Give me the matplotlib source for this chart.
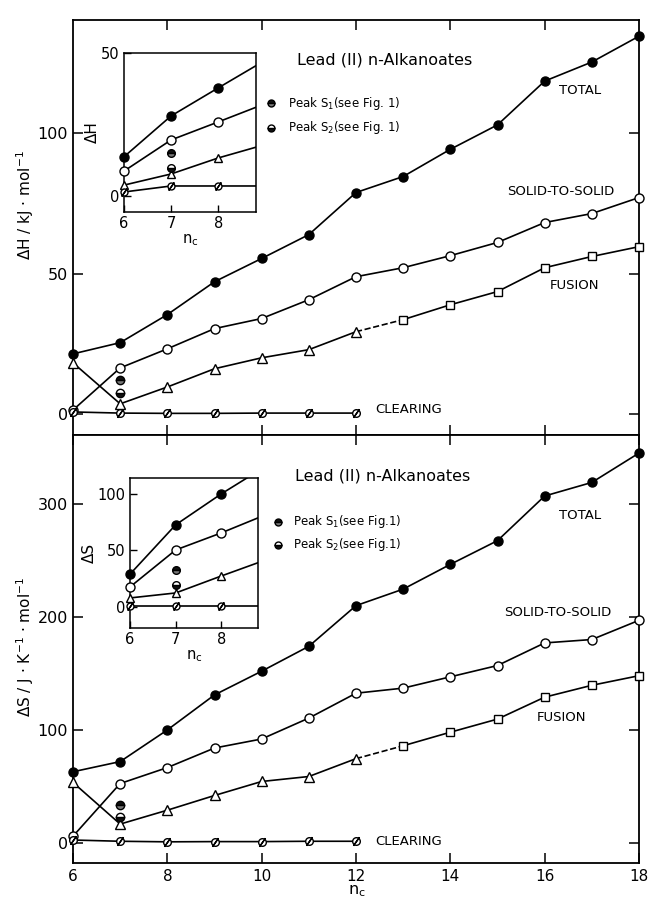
import matplotlib
matplotlib.use('Agg')
import matplotlib.pyplot as plt

# main plot data (n_c = 6..18)
n = [6, 7, 8, 9, 10, 11, 12, 13, 14, 15, 16, 17, 18]
n_clear = [6, 7, 8, 9, 10, 11, 12]

dH_total = [21.4, 25.4, 35.4, 47.1, 55.4, 63.9, 78.9, 84.6, 94.3, 103.0, 118.6, 125.4, 134.6]
dH_solid = [1.4, 16.4, 23.2, 30.4, 34.0, 40.7, 48.9, 52.1, 56.4, 61.1, 68.2, 71.4, 77.1]
dH_fusion = [18.2, 3.6, 9.6, 16.1, 20.0, 22.9, 29.3, 33.6, 38.9, 43.6, 52.1, 56.1, 59.6]
dH_clear = [0.7, 0.3, 0.2, 0.2, 0.3, 0.3, 0.3]
dH_peak_s1 = 12.1
dH_peak_s2 = 7.5

dS_total = [63, 72, 100, 131, 152, 174, 210, 224.6, 246.5, 267.5, 307, 319, 345]
dS_solid = [6, 52.6, 66.7, 84, 92, 110.5, 132.5, 137, 147, 157, 177, 180, 197]
dS_fusion = [53.5, 16.7, 29, 42, 54.4, 58.8, 74.6, 86, 98, 109.6, 129, 139.5, 148]
dS_clear = [2.6, 1.5, 1.0, 1.2, 1.2, 1.5, 1.5]
dS_peak_s1 = 34
dS_peak_s2 = 22.6

# inset data (n_c = 6, 7, 8; line carried on to 9, cut by the frame)
ins_n = [6, 7, 8]
ins_line_n = [6, 7, 8, 9]
iH_total = [13.7, 28.0, 37.8, 47.5]
iH_solid = [8.7, 19.6, 25.9, 32.3]
iH_fusion = [3.8, 7.7, 13.3, 18.0]
iH_clear = [1.4, 3.5, 3.5, 3.5]
iH_peaks = [15.0, 9.8]

iS_total = [29, 72.6, 100, 125]
iS_solid = [17.7, 50.4, 65.5, 82]
iS_fusion = [8, 12.4, 27.4, 42]
iS_clear = [1, 1, 1, 1]
iS_peaks = [32.7, 19.5]

plt.rcParams['font.family'] = ['DejaVu Sans']
K = 'black'
LW = 1.2


def slashed(ax, x, y, ms=5.5):
    ax.plot(x, y, 'o', ms=ms, mfc='white', mec=K, mew=1.0, clip_on=False, zorder=4)
    ax.plot(x, y, marker=(2, 2, -35), ls='none', ms=ms + 2, mec=K, mew=1.0,
            clip_on=False, zorder=5)


def peaks(ax, x, y1, y2, ms=6):
    ax.plot([x], [y1], 'o', ms=ms, mfc='#111111', mec=K, fillstyle='top',
            markerfacecoloralt='#777777', clip_on=False, zorder=4)
    ax.plot([x], [y2], 'o', ms=ms, mfc='#111111', mec=K, fillstyle='bottom',
            markerfacecoloralt='white', clip_on=False, zorder=4)


def main_panel(ax, total, solid, fusion, clear, p1, p2):
    ax.plot(n, total, '-', color=K, lw=LW, marker='o', ms=6.5, mfc=K, mec=K,
            clip_on=False, zorder=3)
    ax.plot(n, solid, '-', color=K, lw=LW, marker='o', ms=6.5, mfc='white', mec=K,
            clip_on=False, zorder=3)
    # fusion: triangles up to 12, dashed link, squares after
    ax.plot(n[:7], fusion[:7], '-', color=K, lw=LW, marker='^', ms=6.5, mfc='white',
            mec=K, clip_on=False, zorder=3)
    ax.plot(n[6:8], fusion[6:8], '--', color=K, lw=LW, zorder=2)
    ax.plot(n[7:], fusion[7:], '-', color=K, lw=LW, marker='s', ms=5.5, mfc='white',
            mec=K, clip_on=False, zorder=3)
    ax.plot(n_clear, clear, '-', color=K, lw=LW, zorder=2)
    slashed(ax, n_clear, clear)
    peaks(ax, 7, p1, p2)
    ax.set_xlim(6, 18)
    ax.tick_params(direction='in', length=7, width=1.1, labelsize=11.5,
                   top=True, right=True)
    for s in ax.spines.values():
        s.set_linewidth(1.3)


def inset(ax, total, solid, fusion, clear, pk, ylim, yticks, ylab, labx):
    for vals, mfc, mk, ms in [(total, K, 'o', 6.5), (solid, 'white', 'o', 6.5),
                              (fusion, 'white', '^', 6)]:
        ax.plot(ins_line_n, vals, '-', color=K, lw=LW, zorder=2)
        ax.plot(ins_n, vals[:3], ls='none', marker=mk, ms=ms, mfc=mfc, mec=K,
                clip_on=False, zorder=3)
    ax.plot(ins_line_n, clear, '-', color=K, lw=LW, zorder=2)
    slashed(ax, ins_n, clear[:3], ms=5)
    peaks(ax, 7, pk[0], pk[1], ms=5.5)
    ax.set_xlim(6, 8.8)
    ax.set_ylim(*ylim)
    ax.set_xticks([6, 7, 8])
    ax.set_yticks(yticks)
    ax.tick_params(direction='in', length=5, width=1.0, labelsize=10.5, pad=3)
    ax.set_ylabel(ylab, fontsize=11)
    ax.yaxis.set_label_coords(labx, 0.5)
    ax.set_xlabel('n$_\\mathrm{c}$', fontsize=10.5, labelpad=1)
    for s in ax.spines.values():
        s.set_linewidth(1.1)


fig = plt.figure(figsize=(6.49, 9.06), dpi=100)
ax1 = fig.add_axes([0.1125, 0.5199, 0.8721, 0.4581])
ax2 = fig.add_axes([0.1125, 0.0475, 0.8721, 0.4724])

main_panel(ax1, dH_total, dH_solid, dH_fusion, dH_clear, dH_peak_s1, dH_peak_s2)
ax1.set_ylim(-7.5, 140.4)
ax1.set_yticks([0, 50, 100])
ax1.set_xticks([8, 10, 12, 14, 16])
ax1.set_xticklabels([])

main_panel(ax2, dS_total, dS_solid, dS_fusion, dS_clear, dS_peak_s1, dS_peak_s2)
ax2.set_ylim(-17.7, 361)
ax2.set_yticks([0, 100, 200, 300])
ax2.set_xticks([6, 8, 10, 12, 14, 16, 18])
ax2.tick_params(axis='x', pad=4, labelsize=11)

# annotations, top panel
tk = dict(fontsize=9.5, va='center', ha='left')
ax1.text(10.75, 126, 'Lead (II) n-Alkanoates', fontsize=11.5, va='center')
ax1.plot([10.2], [110.7], 'o', ms=5, mfc='#111111', mec=K, fillstyle='top',
         markerfacecoloralt='#777777')
ax1.plot([10.2], [102], 'o', ms=5, mfc='#111111', mec=K, fillstyle='bottom',
         markerfacecoloralt='white')
ax1.text(10.55, 110.7, 'Peak S$_1$(see Fig. 1)', fontsize=8.5, va='center')
ax1.text(10.55, 102, 'Peak S$_2$(see Fig. 1)', fontsize=8.5, va='center')
ax1.text(16.3, 115.4, 'TOTAL', **tk)
ax1.text(15.2, 79.3, 'SOLID-TO-SOLID', **tk)
ax1.text(16.1, 45.7, 'FUSION', **tk)
ax1.text(12.4, 1.4, 'CLEARING', **tk)

# annotations, bottom panel
ax2.text(10.7, 324.6, 'Lead (II) n-Alkanoates', fontsize=11.5, va='center')
ax2.plot([10.35], [284], 'o', ms=5, mfc='#111111', mec=K, fillstyle='top',
         markerfacecoloralt='#777777')
ax2.plot([10.35], [264], 'o', ms=5, mfc='#111111', mec=K, fillstyle='bottom',
         markerfacecoloralt='white')
ax2.text(10.66, 284, 'Peak S$_1$(see Fig.1)', fontsize=8.5, va='center')
ax2.text(10.66, 264, 'Peak S$_2$(see Fig.1)', fontsize=8.5, va='center')
ax2.text(16.3, 290, 'TOTAL', **tk)
ax2.text(15.15, 204, 'SOLID-TO-SOLID', **tk)
ax2.text(15.83, 111, 'FUSION', **tk)
ax2.text(12.4, 1, 'CLEARING', **tk)

fig.text(0.0385, 0.774, 'ΔH / kJ · mol$^{-1}$', rotation=90, fontsize=11,
         ha='center', va='center')
fig.text(0.0385, 0.286, 'ΔS / J · K$^{-1}$ · mol$^{-1}$', rotation=90, fontsize=11,
         ha='center', va='center')
fig.text(0.55, 0.008, 'n$_\\mathrm{c}$', fontsize=11.5, ha='center', va='bottom')

# insets
in1 = fig.add_axes([0.191, 0.766, 0.2034, 0.1755])
inset(in1, iH_total, iH_solid, iH_fusion, iH_clear, iH_peaks, (-5.6, 50), [0, 50],
      'ΔH', -0.18)
in2 = fig.add_axes([0.2003, 0.3068, 0.197, 0.1656])
inset(in2, iS_total, iS_solid, iS_fusion, iS_clear, iS_peaks, (-18.6, 114), [0, 50, 100],
      'ΔS', -0.26)

fig.savefig('out.png', dpi=100)
